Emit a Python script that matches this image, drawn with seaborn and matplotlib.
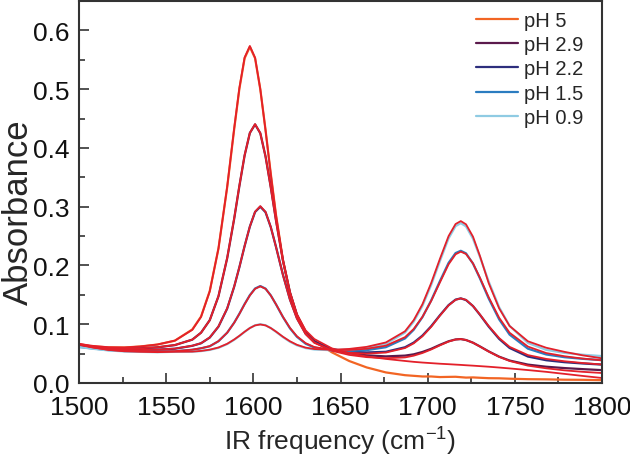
import pandas as pd
import matplotlib
matplotlib.use("Agg")
import matplotlib.pyplot as plt
import seaborn as sns
from matplotlib.ticker import MultipleLocator

# IR frequency grid (cm-1)
freq = [1500, 1508, 1517, 1526, 1535, 1545, 1555, 1565, 1570, 1575, 1580, 1585, 1589, 1592,
        1595, 1598, 1601, 1604, 1607, 1610, 1613, 1617, 1621, 1625, 1630, 1635, 1645, 1655,
        1665, 1676, 1687, 1692, 1697, 1702, 1707, 1712, 1716, 1719, 1722, 1726, 1730, 1735,
        1741, 1747, 1757.5, 1768, 1778.5, 1789, 1800]

labels = ["pH 5", "pH 2.9", "pH 2.2", "pH 1.5", "pH 0.9"]
colors = ["#f26524", "#5b1a4c", "#2d2e7d", "#2b7cc0", "#8fcbe3"]
fit_color = "#e3202a"

# measured spectra
abs_ph5 = [0.0643, 0.0622, 0.0606, 0.0604, 0.0621, 0.0654, 0.0720, 0.0911, 0.1130, 0.1565,
           0.2288, 0.3331, 0.4316, 0.5007, 0.5526, 0.5720, 0.5526, 0.4997, 0.4306, 0.3562,
           0.2860, 0.2090, 0.1535, 0.1158, 0.0876, 0.0718, 0.0523, 0.0374, 0.0265, 0.0180,
           0.0133, 0.0122, 0.0111, 0.0111, 0.0101, 0.0104, 0.0106, 0.0099, 0.0092, 0.0095,
           0.0089, 0.0082, 0.0080, 0.0073, 0.0065, 0.0062, 0.0056, 0.0054, 0.0048]
abs_ph29 = [0.0631, 0.0609, 0.0588, 0.0580, 0.0589, 0.0607, 0.0645, 0.0738, 0.0856, 0.1069,
            0.1476, 0.2123, 0.2792, 0.3352, 0.3872, 0.4254, 0.4400, 0.4250, 0.3855, 0.3332,
            0.2768, 0.2085, 0.1543, 0.1161, 0.0867, 0.0710, 0.0571, 0.0508, 0.0471, 0.0453,
            0.0466, 0.0488, 0.0528, 0.0582, 0.0649, 0.0710, 0.0741, 0.0747, 0.0731, 0.0686,
            0.0622, 0.0538, 0.0448, 0.0382, 0.0313, 0.0277, 0.0254, 0.0236, 0.0219]
abs_ph22 = [0.0622, 0.0596, 0.0572, 0.0560, 0.0560, 0.0567, 0.0583, 0.0633, 0.0676, 0.0773,
            0.0959, 0.1266, 0.1637, 0.1971, 0.2330, 0.2661, 0.2910, 0.3000, 0.2906, 0.2653,
            0.2317, 0.1840, 0.1423, 0.1104, 0.0840, 0.0696, 0.0576, 0.0535, 0.0520, 0.0531,
            0.0608, 0.0688, 0.0807, 0.0966, 0.1152, 0.1326, 0.1419, 0.1440, 0.1411, 0.1309,
            0.1160, 0.0960, 0.0750, 0.0596, 0.0450, 0.0387, 0.0354, 0.0332, 0.0313]
abs_ph15 = [0.0614, 0.0587, 0.0560, 0.0544, 0.0540, 0.0538, 0.0540, 0.0565, 0.0590, 0.0625,
            0.0710, 0.0856, 0.1026, 0.1179, 0.1344, 0.1495, 0.1608, 0.1650, 0.1606, 0.1491,
            0.1338, 0.1121, 0.0931, 0.0786, 0.0668, 0.0603, 0.0555, 0.0546, 0.0559, 0.0609,
            0.0758, 0.0906, 0.1121, 0.1404, 0.1732, 0.2044, 0.2211, 0.2250, 0.2206, 0.2032,
            0.1779, 0.1438, 0.1083, 0.0823, 0.0584, 0.0485, 0.0439, 0.0411, 0.0389]
abs_ph09 = [0.0612, 0.0582, 0.0554, 0.0537, 0.0530, 0.0524, 0.0531, 0.0532, 0.0543, 0.0563,
            0.0599, 0.0662, 0.0735, 0.0800, 0.0870, 0.0935, 0.0982, 0.1000, 0.0983, 0.0934,
            0.0871, 0.0780, 0.0702, 0.0642, 0.0594, 0.0570, 0.0558, 0.0569, 0.0596, 0.0666,
            0.0858, 0.1045, 0.1312, 0.1666, 0.2073, 0.2461, 0.2669, 0.2720, 0.2665, 0.2454,
            0.2144, 0.1727, 0.1290, 0.0972, 0.0681, 0.0564, 0.0512, 0.0481, 0.0458]

# fitted curves (all drawn in red)
fit_ph5 = [0.0665, 0.0632, 0.0609, 0.0605, 0.0621, 0.0655, 0.0722, 0.0905, 0.1125, 0.1560,
           0.2290, 0.3340, 0.4330, 0.5020, 0.5540, 0.5735, 0.5535, 0.5000, 0.4300, 0.3555,
           0.2855, 0.2095, 0.1545, 0.1170, 0.0895, 0.0748, 0.0590, 0.0505, 0.0452, 0.0410,
           0.0375, 0.0360, 0.0348, 0.0338, 0.0328, 0.0320, 0.0313, 0.0308, 0.0302, 0.0295,
           0.0287, 0.0277, 0.0263, 0.0248, 0.0220, 0.0190, 0.0155, 0.0120, 0.0085]
fit_ph29 = [0.0668, 0.0622, 0.0592, 0.0582, 0.0590, 0.0608, 0.0646, 0.0738, 0.0855, 0.1068,
            0.1478, 0.2128, 0.2798, 0.3358, 0.3876, 0.4255, 0.4405, 0.4252, 0.3852, 0.3325,
            0.2758, 0.2070, 0.1525, 0.1140, 0.0845, 0.0688, 0.0548, 0.0478, 0.0440, 0.0422,
            0.0435, 0.0465, 0.0510, 0.0570, 0.0640, 0.0705, 0.0740, 0.0748, 0.0732, 0.0685,
            0.0620, 0.0535, 0.0445, 0.0375, 0.0295, 0.0250, 0.0215, 0.0190, 0.0170]
fit_ph22 = [0.0655, 0.0610, 0.0578, 0.0563, 0.0562, 0.0569, 0.0585, 0.0634, 0.0677, 0.0775,
            0.0962, 0.1270, 0.1640, 0.1972, 0.2332, 0.2663, 0.2915, 0.3010, 0.2912, 0.2655,
            0.2315, 0.1835, 0.1415, 0.1095, 0.0830, 0.0684, 0.0560, 0.0515, 0.0500, 0.0518,
            0.0595, 0.0675, 0.0795, 0.0955, 0.1145, 0.1320, 0.1415, 0.1440, 0.1415, 0.1310,
            0.1165, 0.0970, 0.0765, 0.0615, 0.0475, 0.0410, 0.0370, 0.0340, 0.0315]
fit_ph15 = [0.0650, 0.0603, 0.0565, 0.0546, 0.0541, 0.0539, 0.0542, 0.0567, 0.0592, 0.0627,
            0.0712, 0.0856, 0.1024, 0.1176, 0.1340, 0.1490, 0.1603, 0.1645, 0.1603, 0.1490,
            0.1340, 0.1125, 0.0938, 0.0795, 0.0678, 0.0612, 0.0563, 0.0562, 0.0583, 0.0635,
            0.0780, 0.0920, 0.1125, 0.1395, 0.1710, 0.2020, 0.2190, 0.2235, 0.2195, 0.2035,
            0.1790, 0.1460, 0.1110, 0.0855, 0.0620, 0.0510, 0.0455, 0.0415, 0.0385]
fit_ph09 = [0.0660, 0.0608, 0.0563, 0.0540, 0.0531, 0.0525, 0.0531, 0.0534, 0.0546, 0.0567,
            0.0604, 0.0667, 0.0740, 0.0803, 0.0872, 0.0935, 0.0980, 0.0996, 0.0980, 0.0935,
            0.0875, 0.0787, 0.0710, 0.0650, 0.0602, 0.0578, 0.0565, 0.0580, 0.0615, 0.0690,
            0.0880, 0.1070, 0.1340, 0.1700, 0.2110, 0.2500, 0.2705, 0.2755, 0.2700, 0.2490,
            0.2160, 0.1700, 0.1270, 0.0970, 0.0710, 0.0600, 0.0530, 0.0470, 0.0420]

measured = pd.DataFrame({"freq": freq, "pH 5": abs_ph5, "pH 2.9": abs_ph29,
                         "pH 2.2": abs_ph22, "pH 1.5": abs_ph15, "pH 0.9": abs_ph09})
fitted = pd.DataFrame({"freq": freq, "pH 5": fit_ph5, "pH 2.9": fit_ph29,
                       "pH 2.2": fit_ph22, "pH 1.5": fit_ph15, "pH 0.9": fit_ph09})
data_long = measured.melt(id_vars="freq", var_name="pH", value_name="absorbance")
fit_long = fitted.melt(id_vars="freq", var_name="pH", value_name="absorbance")

sns.set_style("ticks")
plt.rcParams["font.family"] = ["Liberation Sans", "DejaVu Sans"]
plt.rcParams["mathtext.default"] = "regular"

fig = plt.figure(figsize=(6.3, 4.6), dpi=100)
ax = fig.add_axes([79 / 630, 76 / 460, 523 / 630, 382 / 460])

sns.lineplot(data=data_long, x="freq", y="absorbance", hue="pH", hue_order=labels,
             palette=colors, linewidth=1.6, sort=False, estimator=None, ax=ax)
handles, leg_labels = ax.get_legend_handles_labels()
sns.lineplot(data=fit_long, x="freq", y="absorbance", units="pH", estimator=None,
             sort=False, color=fit_color, linewidth=1.3, legend=False, ax=ax)

ax.set_xlim(1500, 1800)
ax.set_ylim(0, 0.65)
ax.xaxis.set_major_locator(MultipleLocator(50))
ax.xaxis.set_minor_locator(MultipleLocator(25))
ax.yaxis.set_major_locator(MultipleLocator(0.1))
ax.yaxis.set_minor_locator(MultipleLocator(0.05))
ax.tick_params(which="both", direction="in", top=False, right=False, colors="#222222",
               labelcolor="#111111", width=1.1)
ax.tick_params(which="major", length=7, labelsize=19, pad=7)
ax.tick_params(axis="x", which="major", pad=9)
ax.tick_params(which="minor", length=4)
for sp in ax.spines.values():
    sp.set_linewidth(1.5)
    sp.set_color("#333333")

ax.set_xlabel("IR frequency (cm$^{-1}$)", fontsize=19, labelpad=4)
ax.set_ylabel("Absorbance", fontsize=25)
ax.yaxis.set_label_coords(-0.084, 0.45)

ax.legend(handles, leg_labels, loc="upper right", bbox_to_anchor=(0.979, 0.995),
          frameon=False, fontsize=14.5, handlelength=2.05, labelspacing=0.26,
          handletextpad=0.3, borderaxespad=0)

fig.savefig("out.png", dpi=100)
